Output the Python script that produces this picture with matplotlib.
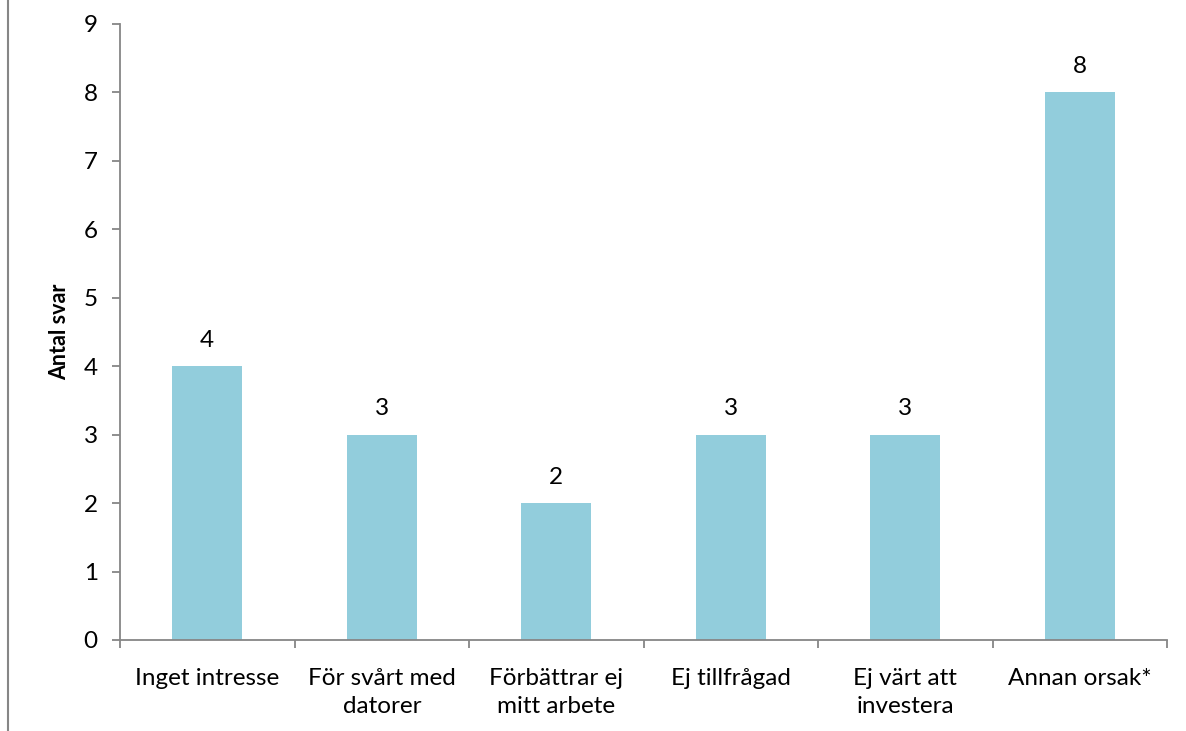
import matplotlib
matplotlib.use("Agg")
import matplotlib.pyplot as plt
from matplotlib.lines import Line2D
import numpy as np

plt.rcParams["font.family"] = ["Lato", "DejaVu Sans"]

categories = ["Inget intresse", "För svårt med\ndatorer", "Förbättrar ej\nmitt arbete",
              "Ej tillfrågad", "Ej värt att\ninvestera", "Annan orsak*"]
values = [4, 3, 2, 3, 3, 8]

BAR = "#92CDDC"
AXIS = "#868686"
FS = 17.5

fig = plt.figure(figsize=(11.86, 7.31), dpi=100)
ax = fig.add_axes([0.1012, 0.1245, 0.8828, 0.8427])

x = np.arange(len(categories))
ax.bar(x, values, width=0.4, color=BAR)
for xi, v in zip(x, values):
    ax.annotate(str(v), (xi, v), textcoords="offset points", xytext=(0, 11),
                ha="center", va="bottom", fontsize=FS)

ax.set_xlim(-0.5, len(categories) - 0.5)
ax.set_ylim(0, 9)
ax.set_yticks(range(10))
ax.set_xticks(x)
ax.set_xticklabels(categories, linespacing=1.4)
ax.set_xticks(np.arange(-0.5, len(categories)), minor=True)
ax.tick_params(axis="x", which="major", length=0, pad=20, labelsize=FS)
ax.tick_params(axis="x", which="minor", length=6, color=AXIS, width=1.3)
ax.tick_params(axis="y", length=6, color=AXIS, width=1.3, labelsize=FS, pad=10)
for s in ["top", "right"]:
    ax.spines[s].set_visible(False)
for s in ["left", "bottom"]:
    ax.spines[s].set_color(AXIS)
    ax.spines[s].set_linewidth(1.3)
ax.set_ylabel("Antal svar", fontsize=15.5, fontweight="bold", labelpad=10)

fig.add_artist(Line2D([8 / 1186, 8 / 1186], [0, 1], color=AXIS, lw=1.5,
                      transform=fig.transFigure))

fig.savefig("out.png", dpi=100)
